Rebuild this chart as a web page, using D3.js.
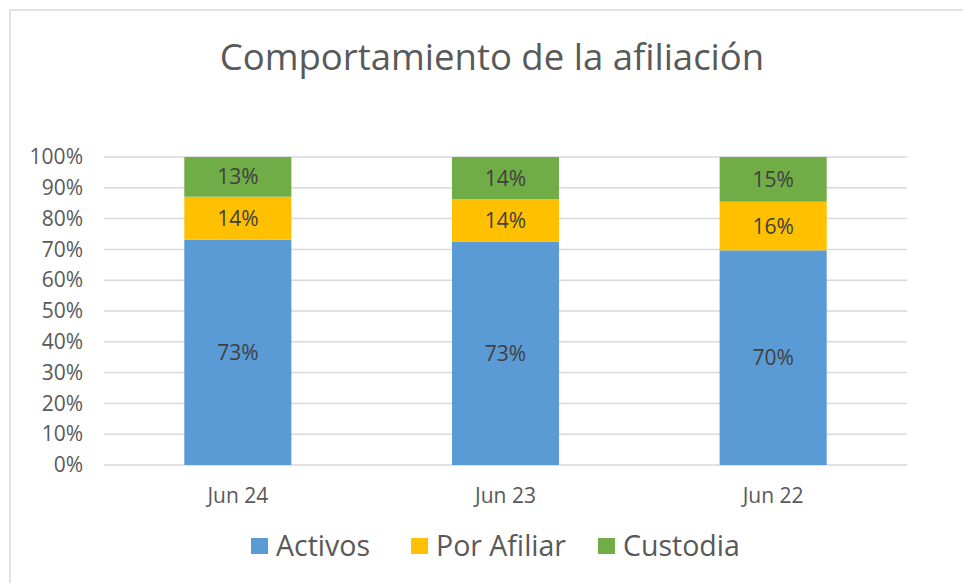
<!DOCTYPE html>
<head>
  <meta charset="UTF-8">
  <title>afiliacion</title>
  <style>
  body, html, svg{
    padding: 0;
    margin: 0;
  }
  body{
    background: #fff;
  }
  text{
    font-family: "Open Sans", sans-serif;
  }
  </style>
</head>
<body>
  <script src="https://cdn.jsdelivr.net/npm/d3@7"></script>
  <script type="text/javascript">
  var width = 963;
  var height = 583;

  // datos
  var periodos = ['Jun 24', 'Jun 23', 'Jun 22'];
  var series = ['Activos', 'Por Afiliar', 'Custodia'];
  var activos = [73.1, 72.5, 69.7];
  var porAfiliar = [14.0, 13.8, 15.8];
  var custodia = [12.9, 13.7, 14.5];
  var colores = ['#5B9BD5', '#FFC000', '#70AD47'];
  var ticks = [0, 10, 20, 30, 40, 50, 60, 70, 80, 90, 100];

  var filas = periodos.map(function(p, i){
    return {periodo: p, 'Activos': activos[i], 'Por Afiliar': porAfiliar[i], 'Custodia': custodia[i]};
  });

  var svg = d3.select('body')
    .append('svg')
    .attr('width', width)
    .attr('height', height);

  // marco
  svg.append('rect')
    .attr('x', 10)
    .attr('y', 10)
    .attr('width', width)
    .attr('height', height)
    .attr('fill', 'none')
    .attr('stroke', '#d9d9d9')
    .attr('stroke-width', 1.5);

  // titulo
  svg.append('text')
    .attr('x', 492)
    .attr('y', 70)
    .attr('text-anchor', 'middle')
    .attr('font-size', 36.5)
    .attr('fill', '#595959')
    .text('Comportamiento de la afiliación');

  var x = d3.scaleBand()
    .domain(periodos)
    .range([104, 907])
    .paddingInner(0.6)
    .paddingOuter(0.3);

  var y = d3.scaleLinear()
    .domain([0, 100])
    .range([465, 157]);

  // rejilla
  svg.append('g')
    .selectAll('line')
    .data(ticks)
    .enter()
    .append('line')
    .attr('x1', 104)
    .attr('x2', 907)
    .attr('y1', function(d){ return y(d); })
    .attr('y2', function(d){ return y(d); })
    .attr('stroke', '#d9d9d9')
    .attr('stroke-width', 1.5);

  // eje y
  var ejeY = svg.append('g')
    .attr('transform', 'translate(83,0)')
    .call(d3.axisLeft(y).tickValues(ticks).tickSize(0).tickFormat(function(d){ return d + '%'; }));
  ejeY.select('.domain').remove();
  ejeY.selectAll('text')
    .attr('font-size', 21)
    .attr('fill', '#595959')
    .attr('font-family', '"Open Sans", sans-serif')
    .attr('x', 0);

  // eje x
  var ejeX = svg.append('g')
    .attr('transform', 'translate(0,465)')
    .call(d3.axisBottom(x).tickSize(0));
  ejeX.select('.domain').remove();
  ejeX.selectAll('text')
    .attr('font-size', 21)
    .attr('fill', '#595959')
    .attr('font-family', '"Open Sans", sans-serif')
    .attr('y', 30)
    .attr('dy', '0.36em');

  // barras apiladas
  var stack = d3.stack().keys(series)(filas);

  var capas = svg.append('g')
    .selectAll('g')
    .data(stack)
    .enter()
    .append('g')
    .attr('fill', function(d, i){ return colores[i]; });

  capas.selectAll('rect')
    .data(function(d){ return d; })
    .enter()
    .append('rect')
    .attr('x', function(d){ return x(d.data.periodo); })
    .attr('width', x.bandwidth())
    .attr('y', function(d){ return y(d[1]); })
    .attr('height', function(d){ return y(d[0]) - y(d[1]); });

  capas.selectAll('text')
    .data(function(d){ return d; })
    .enter()
    .append('text')
    .attr('x', function(d){ return x(d.data.periodo) + x.bandwidth() / 2; })
    .attr('y', function(d){ return (y(d[0]) + y(d[1])) / 2; })
    .attr('dy', '0.36em')
    .attr('text-anchor', 'middle')
    .attr('font-size', 21)
    .attr('fill', '#404040')
    .text(function(d){ return Math.round(d[1] - d[0]) + '%'; });

  // leyenda
  var posLeyenda = [251, 411, 598];
  var leyenda = svg.append('g')
    .selectAll('g')
    .data(series)
    .enter()
    .append('g')
    .attr('transform', function(d, i){ return 'translate(' + posLeyenda[i] + ',538)'; });

  leyenda.append('rect')
    .attr('width', 17)
    .attr('height', 16)
    .attr('fill', function(d, i){ return colores[i]; });

  leyenda.append('text')
    .attr('x', 25)
    .attr('y', 8)
    .attr('dy', '0.36em')
    .attr('font-size', 28.5)
    .attr('fill', '#595959')
    .text(function(d){ return d; });
  </script>
</body>
</html>
